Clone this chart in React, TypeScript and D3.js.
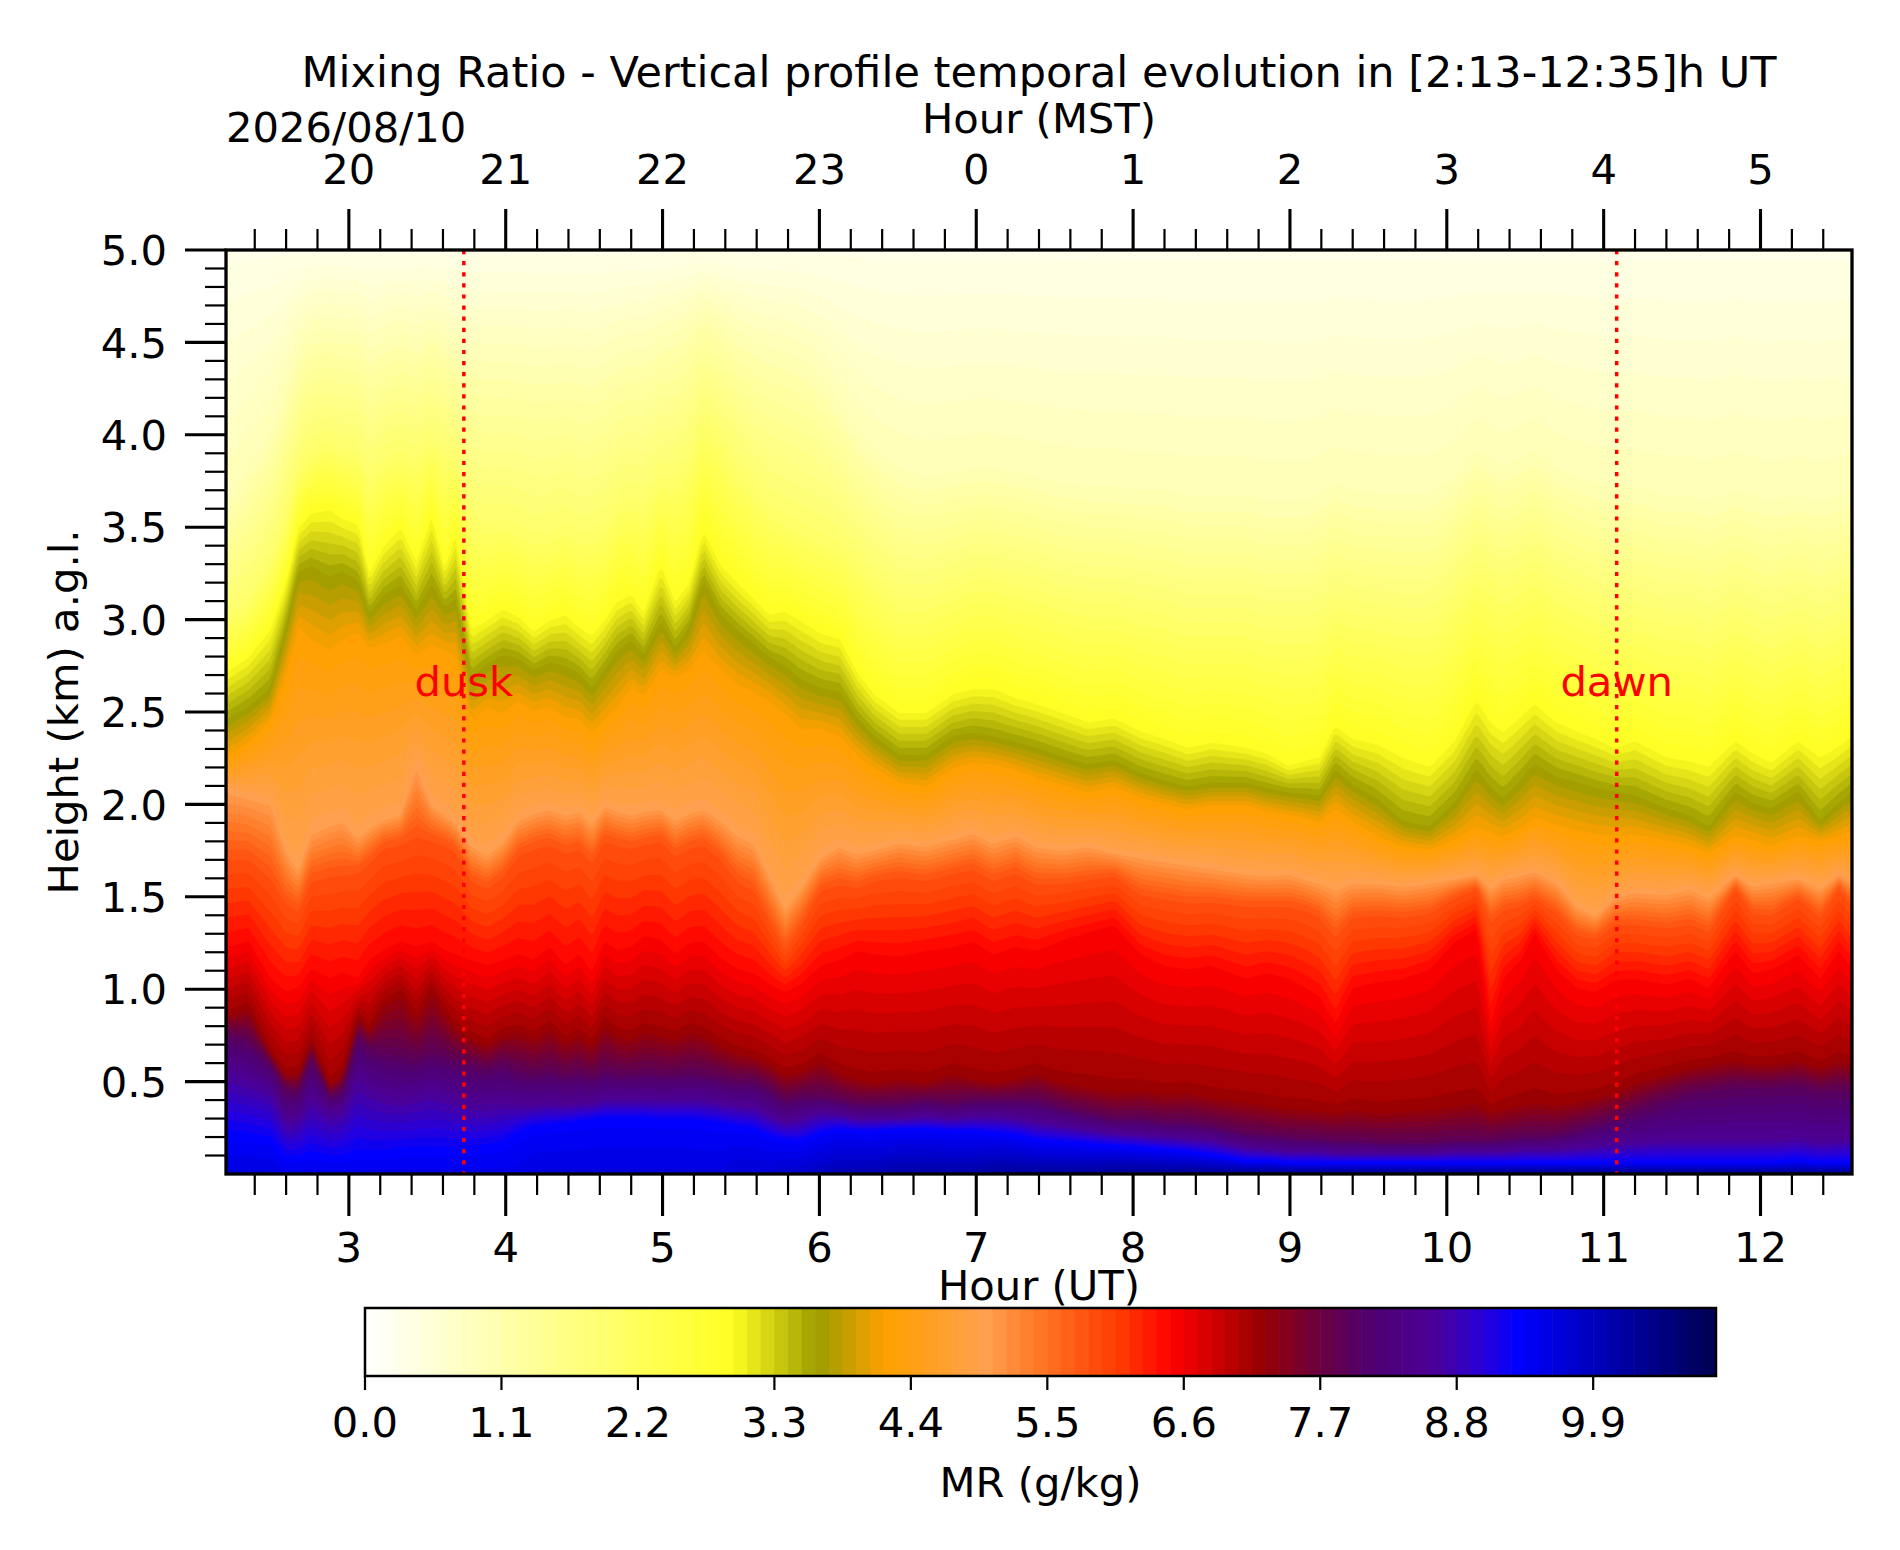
import React, { useEffect, useMemo } from "react";
import * as d3 from "d3";

// ---------------- DATA ----------------
// sample times (UT hours)
const TIMES_UT = [
  2.22, 2.36, 2.5, 2.6, 2.68, 2.76, 2.88, 2.96, 3.06, 3.13,
  3.22, 3.33, 3.43, 3.53, 3.61, 3.68, 3.78, 3.88, 3.98, 4.08,
  4.18, 4.28, 4.38, 4.47, 4.55, 4.63, 4.71, 4.8, 4.88, 4.99,
  5.08, 5.17, 5.26, 5.37, 5.48, 5.58, 5.68, 5.78, 5.88, 6.01,
  6.13, 6.24, 6.35, 6.51, 6.68, 6.85, 6.98, 7.11, 7.25, 7.38,
  7.55, 7.71, 7.88, 8.05, 8.2, 8.35, 8.5, 8.72, 8.85, 8.99,
  9.1, 9.19, 9.29, 9.4, 9.56, 9.72, 9.89, 10.05, 10.19, 10.28,
  10.36, 10.47, 10.56, 10.7, 10.83, 10.95, 11.07, 11.2, 11.4, 11.55,
  11.67, 11.84, 11.95, 12.07, 12.24, 12.38, 12.5, 12.59,
];

// heights (km) of iso-lines of mixing ratio, one value per sample time
const H_1_0 = [
  3.6, 3.8, 4.0, 4.25, 4.45, 4.55, 4.57, 4.55, 4.55, 4.45,
  4.5, 4.55, 4.5, 4.57, 4.5, 4.47, 4.4, 4.38, 4.38, 4.38,
  4.36, 4.36, 4.38, 4.36, 4.34, 4.38, 4.42, 4.46, 4.45, 4.52,
  4.55, 4.6, 4.68, 4.62, 4.55, 4.5, 4.46, 4.44, 4.4, 4.3,
  4.15, 4.0, 3.9, 3.8, 3.75, 3.78, 3.8, 3.8, 3.78, 3.75,
  3.72, 3.7, 3.7, 3.68, 3.68, 3.65, 3.65, 3.65, 3.62, 3.62,
  3.62, 3.65, 3.72, 3.68, 3.66, 3.66, 3.66, 3.75, 3.9, 3.85,
  3.8, 3.85, 3.9, 3.8, 3.75, 3.72, 3.7, 3.7, 3.65, 3.65,
  3.62, 3.68, 3.65, 3.62, 3.65, 3.62, 3.65, 3.68,
];
const H_2_0 = [
  3.0, 3.1, 3.3, 3.55, 3.8, 3.9, 3.95, 3.9, 3.9, 3.75,
  3.85, 3.9, 3.85, 3.95, 3.85, 3.85, 3.55, 3.5, 3.52, 3.5,
  3.45, 3.45, 3.5, 3.45, 3.45, 3.5, 3.6, 3.65, 3.6, 3.75,
  3.75, 3.85, 4.05, 3.95, 3.8, 3.7, 3.6, 3.55, 3.5, 3.45,
  3.4, 3.32, 3.22, 3.1, 3.1, 3.15, 3.2, 3.2, 3.17, 3.15,
  3.1, 3.07, 3.07, 3.03, 3.01, 2.97, 2.97, 2.97, 2.93, 2.93,
  2.93, 2.95, 3.05, 3.01, 3.0, 2.97, 2.97, 3.1, 3.25, 3.2,
  3.15, 3.2, 3.25, 3.15, 3.1, 3.05, 3.0, 3.0, 2.95, 2.95,
  2.9, 3.0, 2.95, 2.9, 2.97, 2.9, 2.95, 3.0,
];
const H_2_95 = [
  2.72, 2.8, 2.95, 3.2, 3.5, 3.58, 3.6, 3.55, 3.52, 3.25,
  3.4, 3.5, 3.32, 3.56, 3.28, 3.45, 2.95, 3.0, 3.06, 3.02,
  2.94, 3.0, 3.03, 2.96, 2.92, 3.0, 3.1, 3.14, 3.04, 3.3,
  3.1, 3.2, 3.48, 3.3, 3.2, 3.12, 3.03, 3.05, 3.0, 2.93,
  2.9, 2.72, 2.6, 2.5, 2.5, 2.6, 2.63, 2.63, 2.58, 2.55,
  2.5, 2.45, 2.47, 2.4, 2.36, 2.31, 2.34, 2.31, 2.28, 2.21,
  2.24, 2.26, 2.43, 2.36, 2.33, 2.26, 2.21, 2.35, 2.57, 2.45,
  2.4, 2.48, 2.55, 2.45, 2.4, 2.36, 2.31, 2.35, 2.26, 2.24,
  2.21, 2.35, 2.28, 2.23, 2.35, 2.26, 2.32, 2.38,
];
const H_3_65 = [
  2.45, 2.52, 2.62, 2.95, 3.25, 3.28, 3.22, 3.25, 3.2, 3.02,
  3.12, 3.18, 3.04, 3.18, 3.06, 3.1, 2.68, 2.75, 2.8, 2.78,
  2.72, 2.76, 2.74, 2.7, 2.62, 2.72, 2.82, 2.88, 2.8, 2.98,
  2.84, 2.95, 3.2, 3.02, 2.93, 2.86, 2.79, 2.74, 2.67, 2.62,
  2.6, 2.46, 2.36, 2.26, 2.26, 2.36, 2.38, 2.36, 2.33, 2.3,
  2.25, 2.21, 2.23, 2.16, 2.12, 2.09, 2.11, 2.11, 2.08, 2.06,
  2.05, 2.04, 2.18, 2.1, 2.02, 1.9, 1.87, 2.0, 2.18, 2.08,
  2.02, 2.12, 2.21, 2.14, 2.11, 2.08, 2.06, 2.04, 1.97, 1.93,
  1.87, 2.06, 2.0, 1.97, 2.06, 1.9, 2.0, 2.06,
];
const H_4_2 = [
  2.25, 2.33, 2.45, 2.7, 2.95, 2.88, 2.82, 2.88, 2.92, 2.84,
  2.86, 2.9, 2.8, 2.85, 2.82, 2.8, 2.45, 2.52, 2.48, 2.55,
  2.5, 2.52, 2.46, 2.45, 2.38, 2.45, 2.52, 2.62, 2.58, 2.72,
  2.68, 2.72, 2.82, 2.72, 2.64, 2.6, 2.55, 2.48, 2.4, 2.4,
  2.36, 2.26, 2.19, 2.11, 2.09, 2.19, 2.22, 2.21, 2.18, 2.14,
  2.1, 2.06, 2.09, 2.03, 2.0, 1.97, 1.99, 1.99, 1.96, 1.94,
  1.92, 1.9, 1.97, 1.9, 1.82, 1.77, 1.75, 1.8, 1.87, 1.84,
  1.82, 1.86, 1.92, 1.88, 1.85, 1.83, 1.82, 1.83, 1.8, 1.77,
  1.73, 1.82, 1.8, 1.77, 1.82, 1.8, 1.82, 1.85,
];
const H_5_0 = [
  2.08, 2.05, 2.02, 1.75, 1.65, 1.85, 1.9, 1.92, 1.82, 1.88,
  1.92, 1.95, 2.21, 2.0, 1.95, 1.9, 1.78, 1.73, 1.8, 1.92,
  1.96, 1.98, 1.95, 1.97, 1.9, 2.0, 1.97, 1.95, 1.97, 1.98,
  1.92, 1.96, 1.98, 1.92, 1.84, 1.8, 1.62, 1.44, 1.55, 1.72,
  1.78, 1.74, 1.76, 1.8, 1.78, 1.82, 1.85, 1.8, 1.84, 1.78,
  1.76, 1.78, 1.74, 1.72, 1.7, 1.68, 1.66, 1.63, 1.62, 1.63,
  1.6, 1.58, 1.55, 1.58, 1.58, 1.56, 1.58, 1.6, 1.62, 1.55,
  1.6, 1.62, 1.64, 1.58, 1.45, 1.4, 1.5, 1.53, 1.52, 1.55,
  1.5, 1.62, 1.56, 1.58, 1.6, 1.55, 1.62, 1.58,
];
const H_5_8 = [
  1.72, 1.72, 1.62, 1.48, 1.44, 1.6, 1.63, 1.64, 1.65, 1.7,
  1.78, 1.8, 1.85, 1.82, 1.8, 1.76, 1.6, 1.56, 1.62, 1.74,
  1.78, 1.8, 1.76, 1.78, 1.7, 1.82, 1.8, 1.78, 1.8, 1.82,
  1.74, 1.78, 1.8, 1.72, 1.6, 1.55, 1.38, 1.22, 1.35, 1.55,
  1.58, 1.56, 1.6, 1.62, 1.6, 1.64, 1.66, 1.6, 1.64, 1.58,
  1.58, 1.6, 1.62, 1.52, 1.5, 1.48, 1.48, 1.46, 1.46, 1.46,
  1.44, 1.4, 1.3, 1.4, 1.41, 1.4, 1.42, 1.5, 1.55, 1.38,
  1.44, 1.46, 1.5, 1.42, 1.3, 1.28, 1.36, 1.36, 1.34, 1.36,
  1.32, 1.55, 1.42, 1.41, 1.5, 1.4, 1.55, 1.45,
];
const H_6_5 = [
  1.22, 1.25, 1.05, 0.98, 1.0, 1.1, 1.05, 1.08, 1.05, 1.15,
  1.2, 1.25, 1.22, 1.25, 1.2, 1.18, 1.15, 1.12, 1.15, 1.18,
  1.15, 1.22, 1.12, 1.18, 1.08, 1.25, 1.2, 1.22, 1.28, 1.26,
  1.18, 1.24, 1.25, 1.16, 1.1, 1.08, 1.02, 0.98, 1.02, 1.12,
  1.15, 1.2, 1.18, 1.17, 1.2, 1.22, 1.25, 1.18, 1.22, 1.2,
  1.26, 1.3, 1.34, 1.18, 1.12, 1.1, 1.12, 1.05, 1.08, 1.05,
  1.0, 0.95, 0.8, 1.0, 1.03, 1.05, 1.1, 1.25, 1.32, 0.8,
  1.05, 1.15, 1.3, 1.1, 1.0, 0.98, 1.04, 1.05, 1.02, 1.05,
  1.0, 1.2, 1.08, 1.1, 1.18, 1.05, 1.2, 1.1,
];
const H_7_2 = [
  0.86, 0.9, 0.66, 0.54, 0.55, 0.72, 0.48, 0.55, 0.86, 0.78,
  0.92, 0.98, 0.85, 1.0, 0.88, 0.8, 0.74, 0.7, 0.76, 0.78,
  0.74, 0.8, 0.72, 0.76, 0.7, 0.82, 0.76, 0.74, 0.78, 0.76,
  0.74, 0.78, 0.76, 0.7, 0.66, 0.64, 0.6, 0.54, 0.56, 0.62,
  0.55, 0.52, 0.5, 0.52, 0.5, 0.55, 0.52, 0.5, 0.52, 0.55,
  0.5, 0.48, 0.45, 0.46, 0.44, 0.45, 0.42, 0.4, 0.38, 0.36,
  0.36, 0.35, 0.34, 0.36, 0.34, 0.35, 0.36, 0.38, 0.4, 0.34,
  0.36, 0.38, 0.4, 0.38, 0.4, 0.42, 0.45, 0.5, 0.55, 0.58,
  0.6, 0.62, 0.6, 0.6, 0.62, 0.58, 0.62, 0.6,
];
const H_7_9 = [
  0.76, 0.72, 0.6, 0.45, 0.45, 0.62, 0.42, 0.45, 0.74, 0.68,
  0.66, 0.64, 0.62, 0.66, 0.64, 0.62, 0.59, 0.57, 0.6, 0.56,
  0.54, 0.56, 0.53, 0.55, 0.52, 0.56, 0.54, 0.54, 0.55, 0.54,
  0.54, 0.55, 0.54, 0.52, 0.5, 0.5, 0.46, 0.4, 0.42, 0.42,
  0.4, 0.38, 0.38, 0.38, 0.4, 0.38, 0.4, 0.4, 0.4, 0.4,
  0.36, 0.33, 0.3, 0.3, 0.28, 0.28, 0.26, 0.22, 0.21, 0.2,
  0.19, 0.19, 0.18, 0.18, 0.17, 0.17, 0.17, 0.18, 0.18, 0.18,
  0.19, 0.2, 0.2, 0.21, 0.24, 0.27, 0.3, 0.34, 0.4, 0.44,
  0.45, 0.47, 0.47, 0.47, 0.48, 0.45, 0.46, 0.45,
];
const H_8_6 = [
  0.54, 0.5, 0.45, 0.28, 0.3, 0.4, 0.32, 0.35, 0.5, 0.45,
  0.42, 0.4, 0.42, 0.44, 0.42, 0.4, 0.37, 0.37, 0.38, 0.37,
  0.37, 0.38, 0.37, 0.38, 0.38, 0.4, 0.4, 0.4, 0.4, 0.4,
  0.4, 0.4, 0.4, 0.38, 0.37, 0.36, 0.32, 0.28, 0.3, 0.33,
  0.32, 0.3, 0.3, 0.3, 0.31, 0.3, 0.31, 0.31, 0.3, 0.28,
  0.26, 0.24, 0.22, 0.21, 0.2, 0.19, 0.18, 0.14, 0.13, 0.12,
  0.12, 0.12, 0.11, 0.11, 0.11, 0.11, 0.11, 0.12, 0.12, 0.12,
  0.12, 0.13, 0.13, 0.13, 0.14, 0.15, 0.16, 0.17, 0.18, 0.18,
  0.18, 0.18, 0.18, 0.18, 0.19, 0.17, 0.18, 0.18,
];
const H_9_3 = [
  0.21, 0.2, 0.18, 0.08, 0.08, 0.1, 0.08, 0.08, 0.1, 0.1,
  0.1, 0.12, 0.12, 0.12, 0.12, 0.12, 0.13, 0.14, 0.16, 0.22,
  0.25, 0.26, 0.27, 0.28, 0.29, 0.3, 0.3, 0.3, 0.3, 0.29,
  0.29, 0.29, 0.28, 0.27, 0.25, 0.24, 0.2, 0.18, 0.17, 0.22,
  0.24, 0.23, 0.23, 0.24, 0.24, 0.23, 0.23, 0.22, 0.21, 0.18,
  0.17, 0.16, 0.15, 0.14, 0.13, 0.12, 0.1, 0.07, 0.07, 0.06,
  0.06, 0.06, 0.06, 0.06, 0.06, 0.06, 0.06, 0.06, 0.06, 0.06,
  0.06, 0.06, 0.06, 0.06, 0.06, 0.06, 0.06, 0.06, 0.06, 0.06,
  0.06, 0.06, 0.06, 0.06, 0.07, 0.06, 0.06, 0.06,
];
// mixing ratio at the ground (g/kg)
const SURFACE_MR = [
  9.6, 9.6, 9.6, 9.5, 9.5, 9.5, 9.5, 9.5, 9.5, 9.5,
  9.5, 9.5, 9.5, 9.5, 9.5, 9.5, 9.5, 9.5, 9.5, 9.5,
  9.6, 9.6, 9.6, 9.6, 9.6, 9.6, 9.6, 9.6, 9.6, 9.6,
  9.6, 9.6, 9.6, 9.6, 9.7, 9.7, 9.7, 9.8, 9.8, 9.9,
  10.0, 10.0, 10.0, 10.1, 10.1, 10.1, 10.1, 10.2, 10.2, 10.2,
  10.2, 10.2, 10.3, 10.3, 10.3, 10.3, 10.3, 10.4, 10.4, 10.4,
  10.4, 10.4, 10.4, 10.4, 10.4, 10.4, 10.4, 10.4, 10.4, 10.4,
  10.4, 10.4, 10.4, 10.4, 10.4, 10.4, 10.4, 10.4, 10.4, 10.4,
  10.4, 10.4, 10.4, 10.4, 10.4, 10.4, 10.4, 10.4,
];
const TOP_MR = 0.3; // at 5 km
const ISO_VALUES = [9.3, 8.6, 7.9, 7.2, 6.5, 5.8, 5.0, 4.2, 3.65, 2.95, 2.0, 1.0];

// colormap
const CMAP_STOPS = [0, 2.95, 3.65, 4.2, 5.0, 5.4, 6.1, 6.5, 7.2, 7.7, 8.1, 8.6, 9.0, 9.3, 10.89];
const CMAP_COLORS = [
  "#ffffff", "#ffff22", "#9d9d00", "#ffa000", "#ffa050", "#ff7a28", "#ff3800", "#ff0000",
  "#9a0000", "#6a0040", "#500070", "#4c0094", "#2a00d8", "#0000ff", "#000050",
];
const LEVEL_STEP = 0.11;
const LEVEL_COUNT = 100; // 0 .. 10.89
const CBAR_TICKS = [0, 1.1, 2.2, 3.3, 4.4, 5.5, 6.6, 7.7, 8.8, 9.9];

const UT_TICKS = [3, 4, 5, 6, 7, 8, 9, 10, 11, 12];
const MST_LABELS = ["20", "21", "22", "23", "0", "1", "2", "3", "4", "5"];
const Y_TICKS = [0.5, 1.0, 1.5, 2.0, 2.5, 3.0, 3.5, 4.0, 4.5, 5.0];
const T_START = 2 + 13 / 60;
const T_END = 12 + 35 / 60;
const DUSK_UT = 3.733;
const DAWN_UT = 11.083;

// ---------------- LAYOUT ----------------
const W = 1900;
const H = 1550;
const PL = 226, PR = 1852, PT = 250, PB = 1174;
const CB = { x0: 365, x1: 1716, y0: 1308, y1: 1376 };
const FONT = "DejaVu Sans, Verdana, sans-serif";
const FS = 41.7;

const xScale = d3.scaleLinear().domain([T_START, T_END]).range([PL, PR]);
const yScale = d3.scaleLinear().domain([0, 5]).range([PB, PT]);
const levels = d3.range(LEVEL_COUNT).map((k) => +(k * LEVEL_STEP).toFixed(3));
const cmap = d3.scaleLinear<string>().domain(CMAP_STOPS).range(CMAP_COLORS).interpolate(d3.interpolateRgb).clamp(true);
const bandColor = (k: number) => cmap(levels[k] + LEVEL_STEP / 2);
const cbScale = d3.scaleLinear().domain([0, levels[levels.length - 1]]).range([CB.x0, CB.x1]);

const ISO_ARRAYS = [H_9_3, H_8_6, H_7_9, H_7_2, H_6_5, H_5_8, H_5_0, H_4_2, H_3_65, H_2_95, H_2_0, H_1_0];

function profileAt(t: number) {
  const n = TIMES_UT.length;
  let k = d3.bisectRight(TIMES_UT, t) - 1;
  k = Math.max(0, Math.min(n - 2, k));
  let f = (t - TIMES_UT[k]) / (TIMES_UT[k + 1] - TIMES_UT[k]);
  f = Math.max(0, Math.min(1, f));
  const lerp = (a: number[]) => a[k] + (a[k + 1] - a[k]) * f;
  const hs = [0, ...ISO_ARRAYS.map(lerp), 5.0];
  const vs = [lerp(SURFACE_MR), ...ISO_VALUES, TOP_MR];
  return d3.scaleLinear().domain(hs).range(vs).clamp(true);
}

function buildContours() {
  const nx = 542, ny = 400;
  const values = new Float64Array(nx * ny);
  for (let i = 0; i < nx; i++) {
    const t = T_START + ((i + 0.5) / nx) * (T_END - T_START);
    const prof = profileAt(t);
    for (let j = 0; j < ny; j++) {
      const h = ((j + 0.5) / ny) * 5;
      values[j * nx + i] = prof(h);
    }
  }
  const contours = d3.contours().size([nx, ny]).thresholds(levels)(Array.from(values));
  const proj = d3.geoTransform({
    point: function (x: number, y: number) {
      (this as any).stream.point(
        xScale(T_START + (x / nx) * (T_END - T_START)),
        yScale((y / ny) * 5)
      );
    },
  });
  const path = d3.geoPath(proj);
  return contours.map((c, k) => ({ d: path(c as any) || "", fill: bandColor(k) }));
}

export default function App() {
  useEffect(() => {
    document.body.style.margin = "0";
    document.body.style.background = "#ffffff";
  }, []);
  const bands = useMemo(buildContours, []);

  const minorX = d3.range(Math.ceil(T_START * 5), Math.floor(T_END * 5) + 1)
    .map((v) => v / 5)
    .filter((v) => Math.abs(v - Math.round(v)) > 1e-6);
  const minorY = d3.range(1, 50).map((v) => v / 10).filter((v) => Math.abs(v * 2 - Math.round(v * 2)) > 1e-6);

  return (
    <svg width={W} height={H} viewBox={`0 0 ${W} ${H}`} style={{ position: "absolute", left: 0, top: 0, background: "#fff" }} fontFamily={FONT}>
      <rect x={0} y={0} width={W} height={H} fill="#fff" />
      <defs>
        <clipPath id="plotclip">
          <rect x={PL} y={PT} width={PR - PL} height={PB - PT} />
        </clipPath>
      </defs>
      <g clipPath="url(#plotclip)">
        {bands.map((b, k) => (
          <path key={k} d={b.d} fill={b.fill} fillRule="evenodd" stroke={b.fill} strokeWidth={0.4} />
        ))}
      </g>
      {/* dusk / dawn */}
      {[{ t: DUSK_UT, s: "dusk" }, { t: DAWN_UT, s: "dawn" }].map((m) => (
        <g key={m.s}>
          <line x1={xScale(m.t)} x2={xScale(m.t)} y1={PT} y2={PB} stroke="#ff0000" strokeWidth={3.5} strokeDasharray="4.2 6.9" />
          <text x={xScale(m.t)} y={696} fontSize={FS} fill="#ff0000" textAnchor="middle">{m.s}</text>
        </g>
      ))}
      {/* frame */}
      <rect x={PL} y={PT} width={PR - PL} height={PB - PT} fill="none" stroke="#000" strokeWidth={3.3} />
      {/* top axis (MST) */}
      {UT_TICKS.map((t, i) => (
        <g key={"tm" + t}>
          <line x1={xScale(t)} x2={xScale(t)} y1={PT} y2={PT - 41} stroke="#000" strokeWidth={3.1} />
          <text x={xScale(t)} y={184} fontSize={FS} textAnchor="middle">{MST_LABELS[i]}</text>
        </g>
      ))}
      {minorX.map((t) => (
        <line key={"tmn" + t} x1={xScale(t)} x2={xScale(t)} y1={PT} y2={PT - 21} stroke="#000" strokeWidth={2.2} />
      ))}
      {/* bottom axis (UT) */}
      {UT_TICKS.map((t) => (
        <g key={"bm" + t}>
          <line x1={xScale(t)} x2={xScale(t)} y1={PB} y2={PB + 42} stroke="#000" strokeWidth={3.1} />
          <text x={xScale(t)} y={1262} fontSize={FS} textAnchor="middle">{t}</text>
        </g>
      ))}
      {minorX.map((t) => (
        <line key={"bmn" + t} x1={xScale(t)} x2={xScale(t)} y1={PB} y2={PB + 21} stroke="#000" strokeWidth={2.2} />
      ))}
      {/* left axis */}
      {Y_TICKS.map((h) => (
        <g key={"y" + h}>
          <line x1={PL} x2={PL - 41} y1={yScale(h)} y2={yScale(h)} stroke="#000" strokeWidth={3.1} />
          <text x={167} y={yScale(h) + 15.2} fontSize={FS} textAnchor="end">{h.toFixed(1)}</text>
        </g>
      ))}
      {minorY.map((h) => (
        <line key={"ymn" + h} x1={PL} x2={PL - 21} y1={yScale(h)} y2={yScale(h)} stroke="#000" strokeWidth={2.2} />
      ))}
      {/* titles and labels */}
      <text x={(PL + PR) / 2} y={87} fontSize={43} textAnchor="middle">
        Mixing Ratio - Vertical profile temporal evolution in [2:13-12:35]h UT
      </text>
      <text x={PL} y={142} fontSize={FS}>2026/08/10</text>
      <text x={(PL + PR) / 2} y={133} fontSize={FS} textAnchor="middle">Hour (MST)</text>
      <text x={(PL + PR) / 2} y={1300} fontSize={FS} textAnchor="middle">Hour (UT)</text>
      <text transform={`translate(78,${(PT + PB) / 2}) rotate(-90)`} fontSize={FS} textAnchor="middle">
        Height (km) a.g.l.
      </text>
      {/* colorbar */}
      {levels.slice(0, -1).map((v, k) => (
        <rect key={"cb" + k} x={cbScale(v)} y={CB.y0} width={cbScale(levels[k + 1]) - cbScale(v) + 0.6} height={CB.y1 - CB.y0} fill={bandColor(k)} />
      ))}
      <rect x={CB.x0} y={CB.y0} width={CB.x1 - CB.x0} height={CB.y1 - CB.y0} fill="none" stroke="#000" strokeWidth={2.5} />
      {CBAR_TICKS.map((v) => (
        <g key={"cbt" + v}>
          <line x1={cbScale(v)} x2={cbScale(v)} y1={CB.y1} y2={CB.y1 + 14} stroke="#000" strokeWidth={2.2} />
          <text x={cbScale(v)} y={1437} fontSize={FS} textAnchor="middle">{v.toFixed(1)}</text>
        </g>
      ))}
      <text x={(CB.x0 + CB.x1) / 2} y={1497} fontSize={FS} textAnchor="middle">MR (g/kg)</text>
    </svg>
  );
}
